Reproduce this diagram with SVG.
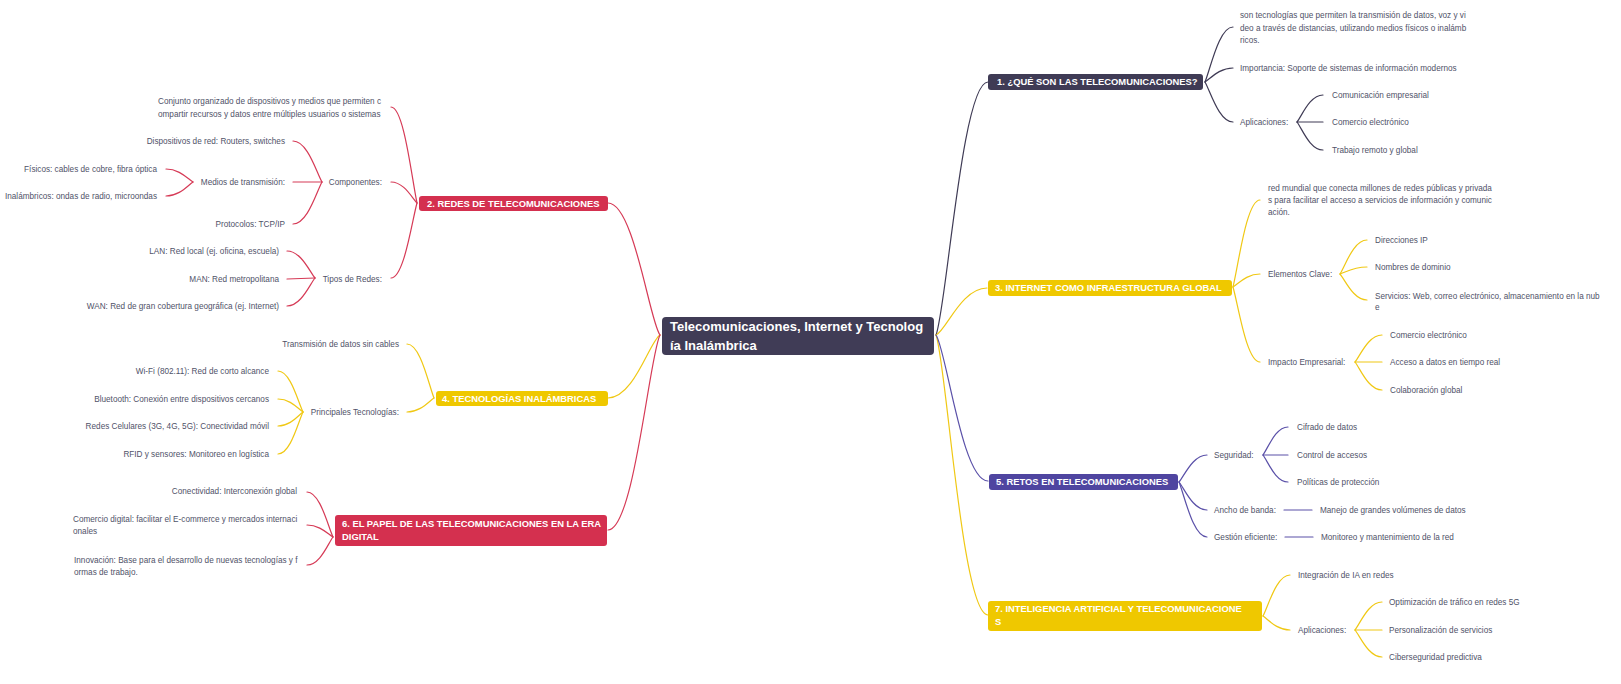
<svg xmlns="http://www.w3.org/2000/svg" width="1621" height="684" viewBox="0 0 1621 684">
<style>
text{font-family:"Liberation Sans",Arial,sans-serif}
.t{font-size:8.2px;fill:#4f5268}
.e{text-anchor:end}
.h{font-size:9.4px;font-weight:bold;fill:#ffffff}
.c{font-size:13px;font-weight:bold;fill:#ffffff}
.k{fill:none;stroke-width:1.2;stroke-linecap:round}
.dk{stroke:#3f3b55}
.rd{stroke:#d63a56}
.yl{stroke:#f0c814}
.pu{stroke:#5a50a8}
</style>
<rect width="1621" height="684" fill="#ffffff"/>
<g id="connectors">
<g class="k dk">
<path d="M936 335 C946.4 309.7 962 82 988 82"/>
<path d="M1205 82 C1210.6 68.25 1219 27 1233 27"/>
<path d="M1205 82 C1210.6 78.5 1219 68 1233 68"/>
<path d="M1205 82 C1210.6 92 1219 122 1233 122"/>
<path d="M1297 122 C1302.2 115.25 1310 95 1323 95"/>
<path d="M1297 122 L1323 122"/>
<path d="M1297 122 C1302.2 129 1310 150 1323 150"/>
</g>
<g class="k yl">
<path d="M936 335 C946.2 330.3 961.5 288 987 288"/>
<path d="M1233 287 C1238.4 265.25 1246.5 200 1260 200"/>
<path d="M1233 287 C1238.4 283.75 1246.5 274 1260 274"/>
<path d="M1233 287 C1238.4 305.75 1246.5 362 1260 362"/>
<path d="M1340 274 C1345.4 265.5 1353.5 240 1367 240"/>
<path d="M1340 274 C1345.4 272.25 1353.5 267 1367 267"/>
<path d="M1340 274 C1345.4 280.5 1353.5 300 1367 300"/>
<path d="M1355 362 C1360.4 355.25 1368.5 335 1382 335"/>
<path d="M1355 362 L1382 362"/>
<path d="M1355 362 C1360.4 369 1368.5 390 1382 390"/>
<path d="M936 335 C946.4 363 962 615 988 615"/>
<path d="M1263 616 C1268.4 605.75 1276.5 575 1290 575"/>
<path d="M1263 616 C1268.4 619.5 1276.5 630 1290 630"/>
<path d="M1355 630 C1360.4 623 1368.5 602 1382 602"/>
<path d="M1355 630 L1382 630"/>
<path d="M1355 630 C1360.4 636.75 1368.5 657 1382 657"/>
<path d="M660 335 C649.6 341.3 634 398 608 398"/>
<path d="M434 398 C428.6 384.5 420.5 344 407 344"/>
<path d="M434 398 C428.6 401.5 420.5 412 407 412"/>
<path d="M303 412 C298 401.75 290.5 371 278 371"/>
<path d="M303 412 C298 408.75 290.5 399 278 399"/>
<path d="M303 412 C298 415.5 290.5 426 278 426"/>
<path d="M303 412 C298 422.5 290.5 454 278 454"/>
</g>
<g class="k pu">
<path d="M936 335 C946.4 349.6 962 481 988 481"/>
<path d="M1179 482 C1184.6 475.25 1193 455 1207 455"/>
<path d="M1179 482 C1184.6 489 1193 510 1207 510"/>
<path d="M1179 482 C1184.6 495.75 1193 537 1207 537"/>
<path d="M1263 455 C1268 448 1275.5 427 1288 427"/>
<path d="M1263 455 L1288 455"/>
<path d="M1263 455 C1268 461.75 1275.5 482 1288 482"/>
<path d="M1284 510 L1312 510"/>
<path d="M1285 537 L1313 537"/>
</g>
<g class="k rd">
<path d="M660 335 C649.6 321.8 634 203 608 203"/>
<path d="M417 203 C411.8 179 404 107 391 107"/>
<path d="M417 203 C411.8 197.75 404 182 391 182"/>
<path d="M417 203 C411.8 221.75 404 278 391 278"/>
<path d="M322 182 C316.2 171.75 307.5 141 293 141"/>
<path d="M322 182 L293 182"/>
<path d="M322 182 C316.2 192.5 307.5 224 293 224"/>
<path d="M193 182 C187.6 178.75 179.5 169 166 169"/>
<path d="M193 182 C187.6 185.5 179.5 196 166 196"/>
<path d="M315 278 C309.4 271.25 301 251 287 251"/>
<path d="M315 278 L287 279"/>
<path d="M315 278 C309.4 285 301 306 287 306"/>
<path d="M660 335 C649.6 354.5 634 530 608 530"/>
<path d="M333 537 C327.8 525.75 320 492 307 492"/>
<path d="M333 537 C327.8 534 320 525 307 525"/>
<path d="M333 537 C327.8 544 320 565 307 565"/>
</g>
</g>

<g id="central">
<rect x="662" y="317" width="272" height="38" rx="4" fill="#403c56"/>
<text class="c" x="670" y="330.7">Telecomunicaciones, Internet y Tecnolog</text>
<text class="c" x="670" y="349.7">ía Inalámbrica</text>
</g>

<g id="n1">
<rect x="988" y="74" width="215" height="16" rx="3" fill="#3f3b55"/>
<text class="h" x="997" y="85.4">1. ¿QUÉ SON LAS TELECOMUNICACIONES?</text>
</g>
<g id="n1-def"><text class="t" x="1240" y="17.9">son tecnologías que permiten la transmisión de datos, voz y vi</text><text class="t" x="1240" y="30.7">deo a través de distancias, utilizando medios físicos o inalámb</text><text class="t" x="1240" y="42.9">ricos.</text></g>
<g id="n1-imp"><text class="t" x="1240" y="70.9">Importancia: Soporte de sistemas de información modernos</text></g>
<g id="n1-apl"><text class="t" x="1240" y="124.9">Aplicaciones:</text></g>
<g id="n1-apl-1"><text class="t" x="1332" y="97.9">Comunicación empresarial</text></g>
<g id="n1-apl-2"><text class="t" x="1332" y="124.9">Comercio electrónico</text></g>
<g id="n1-apl-3"><text class="t" x="1332" y="152.9">Trabajo remoto y global</text></g>

<g id="n3">
<rect x="988" y="280" width="244" height="16" rx="3" fill="#efc800"/>
<text class="h" x="995" y="291.4">3. INTERNET COMO INFRAESTRUCTURA GLOBAL</text>
</g>
<g id="n3-def"><text class="t" x="1268" y="190.9">red mundial que conecta millones de redes públicas y privada</text><text class="t" x="1268" y="202.9">s para facilitar el acceso a servicios de información y comunic</text><text class="t" x="1268" y="214.9">ación.</text></g>
<g id="n3-ele"><text class="t" x="1268" y="276.9">Elementos Clave:</text></g>
<g id="n3-ele-1"><text class="t" x="1375" y="242.9">Direcciones IP</text></g>
<g id="n3-ele-2"><text class="t" x="1375" y="269.9">Nombres de dominio</text></g>
<g id="n3-ele-3"><text class="t" x="1375" y="298.9">Servicios: Web, correo electrónico, almacenamiento en la nub</text><text class="t" x="1375" y="309.9">e</text></g>
<g id="n3-imp"><text class="t" x="1268" y="364.9">Impacto Empresarial:</text></g>
<g id="n3-imp-1"><text class="t" x="1390" y="337.9">Comercio electrónico</text></g>
<g id="n3-imp-2"><text class="t" x="1390" y="364.9">Acceso a datos en tiempo real</text></g>
<g id="n3-imp-3"><text class="t" x="1390" y="392.9">Colaboración global</text></g>

<g id="n5">
<rect x="989" y="474" width="189" height="16" rx="3" fill="#4f45a0"/>
<text class="h" x="996" y="485.4">5. RETOS EN TELECOMUNICACIONES</text>
</g>
<g id="n5-seg"><text class="t" x="1214" y="457.9">Seguridad:</text></g>
<g id="n5-seg-1"><text class="t" x="1297" y="429.9">Cifrado de datos</text></g>
<g id="n5-seg-2"><text class="t" x="1297" y="457.9">Control de accesos</text></g>
<g id="n5-seg-3"><text class="t" x="1297" y="484.9">Políticas de protección</text></g>
<g id="n5-anc"><text class="t" x="1214" y="512.9">Ancho de banda:</text></g>
<g id="n5-anc-1"><text class="t" x="1320" y="512.9">Manejo de grandes volúmenes de datos</text></g>
<g id="n5-ges"><text class="t" x="1214" y="539.9">Gestión eficiente:</text></g>
<g id="n5-ges-1"><text class="t" x="1321" y="539.9">Monitoreo y mantenimiento de la red</text></g>

<g id="n7">
<rect x="988" y="601" width="274" height="30" rx="3" fill="#efc800"/>
<text class="h" x="995" y="612.4">7. INTELIGENCIA ARTIFICIAL Y TELECOMUNICACIONE</text>
<text class="h" x="995" y="625.4">S</text>
</g>
<g id="n7-int"><text class="t" x="1298" y="577.9">Integración de IA en redes</text></g>
<g id="n7-apl"><text class="t" x="1298" y="632.9">Aplicaciones:</text></g>
<g id="n7-apl-1"><text class="t" x="1389" y="604.9">Optimización de tráfico en redes 5G</text></g>
<g id="n7-apl-2"><text class="t" x="1389" y="632.9">Personalización de servicios</text></g>
<g id="n7-apl-3"><text class="t" x="1389" y="659.9">Ciberseguridad predictiva</text></g>

<g id="n2">
<rect x="419" y="196" width="189" height="15" rx="3" fill="#d4304f"/>
<text class="h" x="427" y="206.9">2. REDES DE TELECOMUNICACIONES</text>
</g>
<g id="n2-def"><text class="t" x="158" y="103.9">Conjunto organizado de dispositivos y medios que permiten c</text><text class="t" x="158" y="116.9">ompartir recursos y datos entre múltiples usuarios o sistemas</text></g>
<g id="n2-com"><text class="t e" x="382" y="184.9">Componentes:</text></g>
<g id="n2-com-1"><text class="t e" x="285" y="143.9">Dispositivos de red: Routers, switches</text></g>
<g id="n2-com-2"><text class="t e" x="285" y="184.9">Medios de transmisión:</text></g>
<g id="n2-com-2-1"><text class="t e" x="157" y="171.9">Físicos: cables de cobre, fibra óptica</text></g>
<g id="n2-com-2-2"><text class="t e" x="157" y="198.9">Inalámbricos: ondas de radio, microondas</text></g>
<g id="n2-com-3"><text class="t e" x="285" y="226.9">Protocolos: TCP/IP</text></g>
<g id="n2-tip"><text class="t e" x="382" y="281.9">Tipos de Redes:</text></g>
<g id="n2-tip-1"><text class="t e" x="279" y="253.9">LAN: Red local (ej. oficina, escuela)</text></g>
<g id="n2-tip-2"><text class="t e" x="279" y="281.9">MAN: Red metropolitana</text></g>
<g id="n2-tip-3"><text class="t e" x="279" y="308.9">WAN: Red de gran cobertura geográfica (ej. Internet)</text></g>

<g id="n4">
<rect x="436" y="391" width="172" height="15" rx="3" fill="#efc800"/>
<text class="h" x="442" y="401.9">4. TECNOLOGÍAS INALÁMBRICAS</text>
</g>
<g id="n4-def"><text class="t e" x="399" y="346.9">Transmisión de datos sin cables</text></g>
<g id="n4-pri"><text class="t e" x="399" y="414.9">Principales Tecnologías:</text></g>
<g id="n4-pri-1"><text class="t e" x="269" y="373.9">Wi-Fi (802.11): Red de corto alcance</text></g>
<g id="n4-pri-2"><text class="t e" x="269" y="401.9">Bluetooth: Conexión entre dispositivos cercanos</text></g>
<g id="n4-pri-3"><text class="t e" x="269" y="428.9">Redes Celulares (3G, 4G, 5G): Conectividad móvil</text></g>
<g id="n4-pri-4"><text class="t e" x="269" y="456.9">RFID y sensores: Monitoreo en logística</text></g>

<g id="n6">
<rect x="335" y="515" width="272" height="31" rx="3" fill="#d4304f"/>
<text class="h" x="342" y="527.4">6. EL PAPEL DE LAS TELECOMUNICACIONES EN LA ERA</text>
<text class="h" x="342" y="540.4">DIGITAL</text>
</g>
<g id="n6-con"><text class="t e" x="297" y="493.9">Conectividad: Interconexión global</text></g>
<g id="n6-com"><text class="t" x="73" y="521.9">Comercio digital: facilitar el E-commerce y mercados internaci</text><text class="t" x="73" y="533.9">onales</text></g>
<g id="n6-inn"><text class="t" x="74" y="562.9">Innovación: Base para el desarrollo de nuevas tecnologías y f</text><text class="t" x="74" y="575.4">ormas de trabajo.</text></g>
</svg>
